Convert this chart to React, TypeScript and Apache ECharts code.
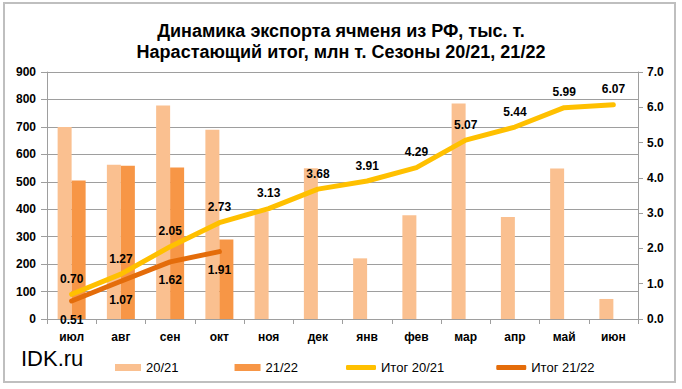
import React, { useEffect, useRef } from "react";
import * as echarts from "echarts";

const months = ["июл", "авг", "сен", "окт", "ноя", "дек", "янв", "фев", "мар", "апр", "май", "июн"];
const exp2021 = [700, 562, 778, 690, 392, 549, 221, 378, 785, 372, 548, 73];
const exp2122 = [505, 558, 552, 290, null, null, null, null, null, null, null, null];
const cum2021 = [0.70, 1.27, 2.05, 2.73, 3.13, 3.68, 3.91, 4.29, 5.07, 5.44, 5.99, 6.07];
const cum2122 = [0.51, 1.07, 1.62, 1.91, null, null, null, null, null, null, null, null];
const leftTicks = { min: 0, max: 900, interval: 100 };
const rightTicks = { min: 0, max: 7, interval: 1 };

const FONT = "'Liberation Sans', Arial, sans-serif";
const GRAY = "#9E9E9E";

export default function App() {
  const ref = useRef<HTMLDivElement>(null);
  useEffect(() => {
    if (!ref.current) return;
    const chart = echarts.init(ref.current, null, { renderer: "svg" });
    const lbl = { fontFamily: FONT, fontWeight: "bold", fontSize: 12, color: "#000" };
    chart.setOption({
      animation: false,
      backgroundColor: "#fff",
      title: {
        text: "Динамика экспорта ячменя из РФ, тыс. т.\nНарастающий итог, млн т. Сезоны 20/21, 21/22",
        left: "center",
        top: 15,
        textStyle: { fontFamily: FONT, fontWeight: "bold", fontSize: 18, lineHeight: 21, color: "#000" },
      },
      graphic: [
        { type: "rect", shape: { x: 4, y: 3, width: 671, height: 379 }, style: { fill: "none", stroke: "#BFBFBF", lineWidth: 2 }, z: 100 },
        { type: "text", left: 21, top: 347, style: { text: "IDK.ru", fontFamily: FONT, fontSize: 22, fill: "#000" } },
      ],
      legend: [
        {
          data: [{ name: "20/21", icon: "rect" }, { name: "21/22", icon: "rect" }],
          left: 110, top: 356, itemWidth: 26, itemHeight: 7, itemGap: 56,
          textStyle: { fontFamily: FONT, fontSize: 13, color: "#000" },
        },
        {
          data: [{ name: "Итог 20/21", icon: "roundRect" }, { name: "Итог 21/22", icon: "roundRect" }],
          left: 341, top: 356, itemWidth: 30, itemHeight: 5, itemGap: 52,
          textStyle: { fontFamily: FONT, fontSize: 13, color: "#000" },
        },
      ],
      grid: { left: 47, right: 44, top: 72, bottom: 70 },
      xAxis: {
        type: "category",
        data: months,
        axisLine: { lineStyle: { color: GRAY } },
        axisTick: { show: true, length: 5, lineStyle: { color: GRAY } },
        axisLabel: { ...lbl, margin: 12 },
      },
      yAxis: [
        {
          type: "value", ...leftTicks, position: "left",
          axisLine: { show: true, lineStyle: { color: GRAY } },
          axisTick: { show: true, length: 6, lineStyle: { color: GRAY } },
          splitLine: { lineStyle: { color: GRAY } },
          axisLabel: { ...lbl, margin: 11 },
        },
        {
          type: "value", ...rightTicks, position: "right",
          axisLine: { show: true, lineStyle: { color: GRAY } },
          axisTick: { show: true, length: 5, lineStyle: { color: GRAY } },
          splitLine: { show: false },
          axisLabel: { ...lbl, margin: 9, formatter: (v: number) => v.toFixed(1) },
        },
      ],
      series: [
        { name: "20/21", type: "bar", data: exp2021, barWidth: 14, barGap: "0%", itemStyle: { color: "#FAC090" } },
        { name: "21/22", type: "bar", data: exp2122, barWidth: 14, barGap: "0%", itemStyle: { color: "#F79646" } },
        {
          name: "Итог 20/21", type: "line", yAxisIndex: 1, data: cum2021,
          symbol: "circle", symbolSize: 1, itemStyle: { color: "#FFC000" },
          lineStyle: { color: "#FFC000", width: 5, cap: "round", join: "round" },
          label: { show: true, position: "top", distance: 9, ...lbl, formatter: (p: any) => p.value.toFixed(2) },
          z: 5,
        },
        {
          name: "Итог 21/22", type: "line", yAxisIndex: 1, data: cum2122,
          symbol: "circle", symbolSize: 1, itemStyle: { color: "#E46C0A" },
          lineStyle: { color: "#E46C0A", width: 5, cap: "round", join: "round" },
          label: { show: true, position: "bottom", distance: 12, ...lbl, formatter: (p: any) => p.value.toFixed(2) },
          z: 5,
        },
      ],
    });
    return () => chart.dispose();
  }, []);
  return <div ref={ref} style={{ position: "fixed", left: 0, top: 0, width: 682, height: 389 }} />;
}
